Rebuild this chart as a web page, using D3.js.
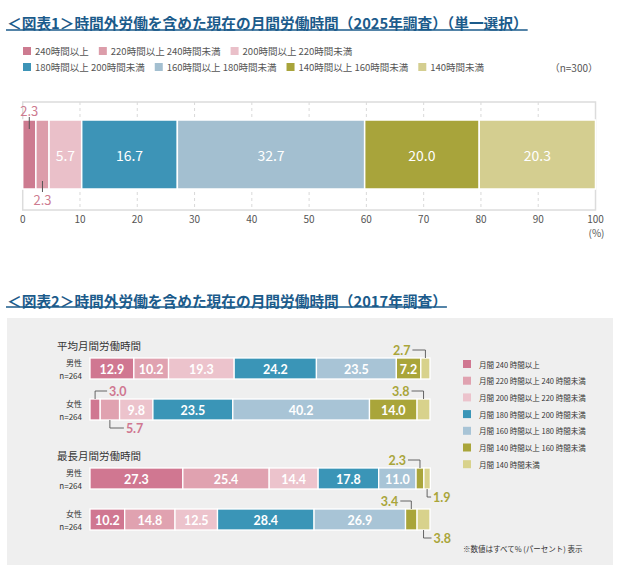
<!DOCTYPE html>
<html><head><meta charset="utf-8">
<script src="https://cdn.jsdelivr.net/npm/d3@7"></script>
<style>body{margin:0;background:#fff}</style>
</head><body><svg id="c" width="619" height="572"></svg>
<script>
// ---------- DATA ----------
const title1 = "＜図表1＞時間外労働を含めた現在の月間労働時間（2025年調査）（単一選択）";
const title2 = "＜図表2＞時間外労働を含めた現在の月間労働時間（2017年調査）";
const categories1 = ["240時間以上","220時間以上 240時間未満","200時間以上 220時間未満",
  "180時間以上 200時間未満","160時間以上 180時間未満","140時間以上 160時間未満","140時間未満"];
const values2025 = [2.3, 2.3, 5.7, 16.7, 32.7, 20.0, 20.3];
const ticks1 = [0,10,20,30,40,50,60,70,80,90,100];
const nLabel1 = "（n=300）";
const unitLabel1 = "(%)";

const categories2 = ["月間 240 時間以上","月間 220 時間以上 240 時間未満","月間 200 時間以上 220 時間未満",
  "月間 180 時間以上 200 時間未満","月間 160 時間以上 180 時間未満","月間 140 時間以上 160 時間未満","月間 140 時間未満"];
const groups2 = ["平均月間労働時間","最長月間労働時間"];
const genders2 = ["男性","女性"];
const nLabels2 = ["n=264","n=264"];
const avgMale   = [12.9, 10.2, 19.3, 24.2, 23.5, 7.2, 2.7];
const avgFemale = [3.0, 5.7, 9.8, 23.5, 40.2, 14.0, 3.8];
const maxMale   = [27.3, 25.4, 14.4, 17.8, 11.0, 2.3, 1.9];
const maxFemale = [10.2, 14.8, 12.5, 28.4, 26.9, 3.4, 3.8];
const footnote2 = "※数値はすべて% (パーセント) 表示";

// ---------- STYLE ----------
const colors1 = ["#cd7b90","#dc9daa","#eac0c9","#3d94b7","#a3bfd0","#a8a43b","#d4ce90"];
const colors2 = ["#d07791","#e0a2b0","#ecc3cc","#3a95b7","#a8c4d6","#a9a53a","#d8d28c"];
const JP = "'Noto Sans CJK JP','Noto Sans',sans-serif";
const NUM2 = "Lato,'Noto Sans',sans-serif";
const titleColor = "#1b5b8b";

const svg = d3.select("#c");

function title(t, y, uy){
  const tx = svg.append("text").attr("x",7).attr("y",y).attr("dominant-baseline","central")
    .attr("font-family",JP).attr("font-weight","bold").attr("font-size",14.7)
    .attr("fill",titleColor).text(t);
  const w = tx.node().getComputedTextLength();
  svg.append("line").attr("x1",6).attr("x2",7+w).attr("y1",uy).attr("y2",uy)
    .attr("stroke",titleColor).attr("stroke-width",1.3);
}

// ===== Chart 1 =====
title(title1, 22, 30);

// legend
const legRows = [[0,1,2],[3,4,5,6]];
const legY = [51, 67];
legRows.forEach((row,ri)=>{
  let x = 23;
  row.forEach(i=>{
    svg.append("rect").attr("x",x).attr("y",legY[ri]-4).attr("width",8).attr("height",8).attr("fill",colors1[i]);
    const t = svg.append("text").attr("x",x+12).attr("y",legY[ri]).attr("dominant-baseline","central")
      .attr("font-family",JP).attr("font-size",9.5).attr("fill","#555").text(categories1[i]);
    x = x + 12 + t.node().getComputedTextLength() + 10;
  });
});
svg.append("text").attr("x",598).attr("y",legY[1]).attr("text-anchor","end").attr("dominant-baseline","central")
  .attr("font-family",JP).attr("font-size",10).attr("fill","#555").text(nLabel1);

const x1 = d3.scaleLinear().domain([0,100]).range([22.7,595.5]);
const f1Top = 102, f1Bot = 210, b1Top = 120, b1Bot = 189;

svg.append("g").selectAll("line").data(ticks1.slice(1,-1)).join("line")
  .attr("x1",d=>x1(d)).attr("x2",d=>x1(d)).attr("y1",f1Top).attr("y2",f1Bot)
  .attr("stroke","#cfcfcf").attr("stroke-width",0.8).attr("stroke-dasharray","3,3");
svg.append("rect").attr("x",x1(0)).attr("y",f1Top).attr("width",x1(100)-x1(0)).attr("height",f1Bot-f1Top)
  .attr("fill","none").attr("stroke","#dcdcdc").attr("stroke-width",1.5);

const stack1 = [];
values2025.reduce((acc,v,i)=>{stack1.push({i,v,x0:acc,x1:acc+v});return acc+v;},0);

svg.append("g").selectAll("rect").data(stack1).join("rect")
  .attr("x",d=>x1(d.x0)).attr("width",d=>x1(d.x1)-x1(d.x0))
  .attr("y",b1Top).attr("height",b1Bot-b1Top)
  .attr("fill",d=>colors1[d.i]).attr("stroke","#fff").attr("stroke-width",1.5);

const bigW = d=> x1(d.x1)-x1(d.x0) > 22;
svg.append("g").selectAll("text").data(stack1.filter(bigW)).join("text")
  .attr("x",d=>(x1(d.x0)+x1(d.x1))/2).attr("y",(b1Top+b1Bot)/2)
  .attr("text-anchor","middle").attr("dominant-baseline","central")
  .attr("font-family",JP).attr("font-size",14).attr("fill","#fff")
  .text(d=>d.v.toFixed(1));

// callouts chart 1
const callouts1 = [{idx:0, dir:"up"},{idx:1, dir:"down"}];
callouts1.forEach(c=>{
  const d = stack1[c.idx];
  const cx = (x1(d.x0)+x1(d.x1))/2;
  const up = c.dir==="up";
  svg.append("line").attr("x1",cx).attr("x2",cx)
    .attr("y1", up? b1Top-3 : b1Bot-8).attr("y2", up? b1Top+9 : b1Bot+3)
    .attr("stroke","#555").attr("stroke-width",1);
  svg.append("text").attr("x",cx).attr("y", up? b1Top-10 : b1Bot+10)
    .attr("text-anchor","middle").attr("dominant-baseline","central")
    .attr("font-family",JP).attr("font-size",13).attr("fill",colors1[0])
    .text(d.v.toFixed(1));
});

// axis labels
svg.append("g").selectAll("text").data(ticks1).join("text")
  .attr("x",d=>x1(d)).attr("y",f1Bot+8).attr("text-anchor","middle").attr("dominant-baseline","central")
  .attr("font-family",JP).attr("font-size",10).attr("fill","#555").text(d=>d);
svg.append("text").attr("x",x1(100)+1).attr("y",f1Bot+22).attr("text-anchor","middle").attr("dominant-baseline","central")
  .attr("font-family",JP).attr("font-size",10).attr("fill","#555").text(unitLabel1);

// ===== Chart 2 =====
title(title2, 300, 307);
svg.append("rect").attr("x",7).attr("y",318).attr("width",606).attr("height",247).attr("fill","#efefef");

const x2 = d3.scaleLinear().domain([0,100]).range([90,430]);
const rows2 = [
  {g:0, s:0, values:avgMale},
  {g:0, s:1, values:avgFemale},
  {g:1, s:0, values:maxMale},
  {g:1, s:1, values:maxFemale}
];
const barH2 = 21;
rows2.forEach(r=>{
  const gTop = 345 + r.g*110;
  r.y = gTop + 13 + r.s*41;
  r.stack = [];
  r.values.reduce((acc,v,i)=>{r.stack.push({i,v,x0:acc,x1:acc+v});return acc+v;},0);
});
groups2.forEach((g,gi)=>{
  svg.append("text").attr("x",57).attr("y",345+gi*110).attr("dominant-baseline","central")
    .attr("font-family",JP).attr("font-size",10.5).attr("fill","#333").text(g);
});
rows2.forEach(r=>{
  const cy = r.y + barH2/2;
  svg.append("text").attr("x",82).attr("y",cy-6).attr("text-anchor","end").attr("dominant-baseline","central")
    .attr("font-family",JP).attr("font-size",8).attr("fill","#333").text(genders2[r.s]);
  svg.append("text").attr("x",82).attr("y",cy+6.5).attr("text-anchor","end").attr("dominant-baseline","central")
    .attr("font-family",JP).attr("font-size",8).attr("fill","#333").text(nLabels2[r.s]);
  const g = svg.append("g");
  g.selectAll("rect").data(r.stack).join("rect")
    .attr("x",d=>x2(d.x0)).attr("width",d=>x2(d.x1)-x2(d.x0))
    .attr("y",r.y).attr("height",barH2)
    .attr("fill",d=>colors2[d.i]).attr("stroke","#fff").attr("stroke-width",1.3);
  g.selectAll("text").data(r.stack.filter(d=>x2(d.x1)-x2(d.x0)>21)).join("text")
    .attr("x",d=>(x2(d.x0)+x2(d.x1))/2).attr("y",cy+0.5)
    .attr("text-anchor","middle").attr("dominant-baseline","central")
    .attr("font-family",NUM2).attr("font-weight","bold").attr("font-size",12.5).attr("fill","#fff")
    .text(d=>d.v.toFixed(1));
});

const callouts2 = [
  {row:0, idx:6, dir:"upLeft",   h:13},
  {row:1, idx:0, dir:"upRight",  h:12},
  {row:1, idx:1, dir:"downRight",h:14},
  {row:1, idx:6, dir:"upLeft",   h:12},
  {row:2, idx:5, dir:"upLeft",   h:12},
  {row:2, idx:6, dir:"downRight",h:4},
  {row:3, idx:5, dir:"upLeft",   h:11},
  {row:3, idx:6, dir:"downRight",h:8}
];
callouts2.forEach(c=>{
  const r = rows2[c.row], d = r.stack[c.idx];
  const cx = (x2(d.x0)+x2(d.x1))/2;
  const up = c.dir.startsWith("up"), left = c.dir.endsWith("Left");
  const yEdge = up ? r.y : r.y+barH2;
  const yLine = up ? yEdge-8 : yEdge+8;
  const xEnd = left ? cx - c.h : cx + c.h;
  svg.append("path").attr("d",`M${cx},${yEdge}V${yLine}H${xEnd}`)
    .attr("fill","none").attr("stroke","#555").attr("stroke-width",0.9);
  svg.append("text").attr("x", left? xEnd-2 : xEnd+2).attr("y",yLine+0.5)
    .attr("text-anchor", left? "end":"start").attr("dominant-baseline","central")
    .attr("font-family",NUM2).attr("font-weight","bold").attr("font-size",12.5)
    .attr("fill", d.i<3 ? colors2[0] : colors2[5])
    .text(d.v.toFixed(1));
});

// legend chart 2
categories2.forEach((c,i)=>{
  const y = 364 + i*16.7;
  svg.append("rect").attr("x",463).attr("y",y-4).attr("width",8).attr("height",8).attr("fill",colors2[i]);
  svg.append("text").attr("x",479).attr("y",y).attr("dominant-baseline","central")
    .attr("font-family",JP).attr("font-size",7.5).attr("fill","#333").text(c);
});
svg.append("text").attr("x",463).attr("y",548).attr("dominant-baseline","central")
  .attr("font-family",JP).attr("font-size",7.5).attr("fill","#333").text(footnote2);
</script></body></html>
